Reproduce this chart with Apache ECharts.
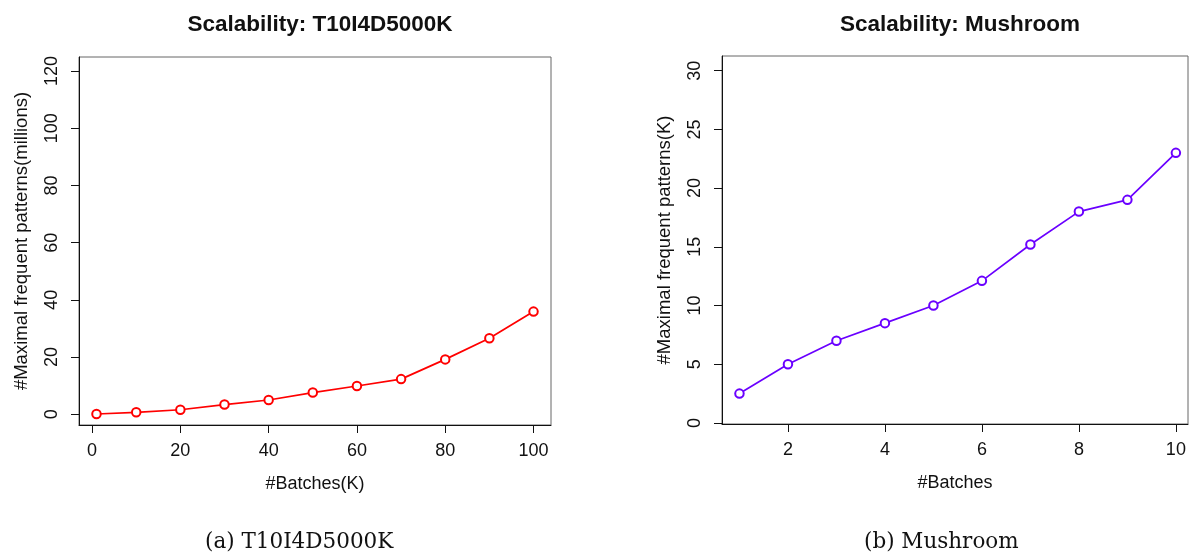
<!DOCTYPE html>
<html>
<head>
<meta charset="utf-8">
<script src="https://cdn.jsdelivr.net/npm/echarts@6/dist/echarts.min.js"></script>
<style>
html,body{margin:0;padding:0;background:#fff;}
#c{width:1194px;height:556px;}
</style>
</head>
<body>
<div id="c"></div>
<script>
// ---- data ----
var batchesA = [1, 10, 20, 30, 40, 50, 60, 70, 80, 90, 100];
var patternsA = [0.1, 0.7, 1.6, 3.4, 5.0, 7.6, 9.9, 12.3, 19.2, 26.6, 35.9];
var batchesB = [1, 2, 3, 4, 5, 6, 7, 8, 9, 10];
var patternsB = [2.5, 5.0, 7.0, 8.5, 10.0, 12.1, 15.2, 18.0, 19.0, 23.0];
var xTicksA = [0, 20, 40, 60, 80, 100];
var yTicksA = [0, 20, 40, 60, 80, 100, 120];
var xTicksB = [2, 4, 6, 8, 10];
var yTicksB = [0, 5, 10, 15, 20, 25, 30];
var titles = ['Scalability: T10I4D5000K', 'Scalability: Mushroom'];
var captions = ['(a) T10I4D5000K', '(b) Mushroom'];
var xNames = ['#Batches(K)', '#Batches'];
var yNames = ['#Maximal frequent patterns(millions)', '#Maximal frequent patterns(K)'];

function zip(xs, ys) { return xs.map(function (x, i) { return [x, ys[i]]; }); }

var FONT = '"Liberation Sans", Arial, Helvetica, sans-serif';
var lab = { fontFamily: FONT, fontSize: 18, color: '#111' };

function xAxis(idx, min, max, ticks, name) {
  return {
    type: 'value', gridIndex: idx, min: min, max: max,
    name: name, nameLocation: 'middle', nameGap: 50,
    nameTextStyle: { fontFamily: FONT, fontSize: 18, color: '#111' },
    splitLine: { show: false },
    axisLine: { show: true, onZero: false, lineStyle: { color: '#111', width: 1 } },
    axisTick: { show: true, length: 8, inside: false, customValues: ticks, lineStyle: { color: '#111' } },
    axisLabel: Object.assign({ margin: 17, customValues: ticks }, lab)
  };
}
function yAxis(idx, min, max, ticks, name) {
  return {
    type: 'value', gridIndex: idx, min: min, max: max,
    name: name, nameLocation: 'middle', nameGap: 48,
    nameTextStyle: { fontFamily: FONT, fontSize: 18.5, color: '#111' },
    splitLine: { show: false },
    axisLine: { show: true, onZero: false, lineStyle: { color: '#111', width: 1 } },
    axisTick: { show: true, length: 8, inside: false, customValues: ticks, lineStyle: { color: '#111' } },
    axisLabel: Object.assign({ margin: 18, rotate: 90, customValues: ticks }, lab)
  };
}
function series(idx, data, color) {
  return {
    type: 'line', xAxisIndex: idx, yAxisIndex: idx, data: data,
    symbol: 'emptyCircle', symbolSize: 8.5, showAllSymbol: true,
    lineStyle: { color: color, width: 1.7 },
    itemStyle: { color: color, borderColor: color, borderWidth: 1.8 },
    silent: true, animation: false
  };
}

var chart = echarts.init(document.getElementById('c'), null, { renderer: 'canvas' });
chart.setOption({
  backgroundColor: '#fff',
  animation: false,
  title: [
    { text: titles[0], left: 315, top: 8, textAlign: 'center',
      textStyle: { fontFamily: FONT, fontSize: 22.5, fontWeight: 'bold', color: '#111' } },
    { text: titles[1], left: 955, top: 8, textAlign: 'center',
      textStyle: { fontFamily: FONT, fontSize: 22.5, fontWeight: 'bold', color: '#111' } }
  ],
  grid: [
    { left: 79, top: 57, width: 472, height: 368, show: true, borderColor: '#666', borderWidth: 1, backgroundColor: 'transparent' },
    { left: 722, top: 56, width: 466, height: 368, show: true, borderColor: '#666', borderWidth: 1, backgroundColor: 'transparent' }
  ],
  xAxis: [
    xAxis(0, -2.96, 103.96, xTicksA, xNames[0]),
    xAxis(1, 0.64, 10.25, xTicksB, xNames[1])
  ],
  yAxis: [
    yAxis(0, -3.74, 124.9, yTicksA, yNames[0]),
    yAxis(1, -0.09, 31.25, yTicksB, yNames[1])
  ],
  series: [
    series(0, zip(batchesA, patternsA), '#ff0000'),
    series(1, zip(batchesB, patternsB), '#6a00ff')
  ],
  graphic: [
    { type: 'text', left: 205, top: 531, style: { text: captions[0], font: '21.5px "DejaVu Serif", "Liberation Serif", serif', fill: '#111' } },
    { type: 'text', left: 864, top: 531, style: { text: captions[1], font: '21.5px "DejaVu Serif", "Liberation Serif", serif', fill: '#111' } }
  ]
});
</script>
</body>
</html>
